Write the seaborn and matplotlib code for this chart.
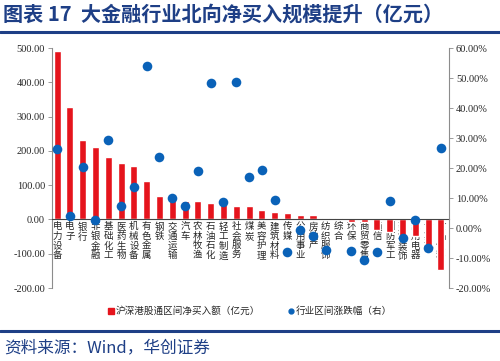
import numpy as np
import pandas as pd
import matplotlib.pyplot as plt
from matplotlib.lines import Line2D
from matplotlib.ticker import FuncFormatter
import seaborn as sns

categories = ["电力设备", "电子", "银行", "非银金融", "基础化工", "医药生物", "机械设备",
              "有色金属", "钢铁", "交通运输", "汽车", "农林牧渔", "石油石化", "轻工制造",
              "社会服务", "煤炭", "美容护理", "建筑材料", "传媒", "公用事业", "房地产",
              "纺织服饰", "综合", "环保", "商贸零售", "通信", "国防军工", "建筑装饰",
              "家用电器", "计算机", "食品饮料"]
net_buy = [490, 328, 233, 211, 181, 166, 155, 112, 67, 58, 55, 54, 49, 45, 40,
           39, 28, 21, 18, 14, 14, 5, 4, -8, -8, -30, -37, -57, -47, -90, -147]
pct_change = [26.3, 4.1, 20.5, 2.8, 29.2, 7.5, 13.8, 53.9, 23.8, 10.1, 7.3, 18.9,
              48.3, 8.7, 48.8, 16.9, 19.3, 9.2, -7.9, -0.8, -2.6, -7.2, np.nan,
              -7.8, -10.8, -8.1, 8.9, -3.3, 2.8, -6.5, 26.7]

bar_label = "沪深港股通区间净买入额（亿元）"
dot_label = "行业区间涨跌幅（右）"
title = "图表 17  大金融行业北向净买入规模提升（亿元）"
source = "资料来源：Wind，华创证券"

RED = "#E5141C"
BLUE = "#0A62B8"
NAVY = "#1E3F86"
GREY = "#8C8C8C"
CJK = ["Noto Sans CJK SC", "DejaVu Sans"]
SERIF = ["Liberation Serif", "DejaVu Serif"]

sns.set_style("white")
plt.rcParams["font.family"] = CJK
plt.rcParams["axes.unicode_minus"] = False

df = pd.DataFrame({"industry": categories, "net_buy": net_buy,
                   "pct": pct_change, "pos": np.arange(len(categories))})

fig = plt.figure(figsize=(5.0, 3.61), dpi=100)
ax = fig.add_axes([0.104, 0.2022, 0.794, 0.6648])
sns.barplot(data=df, x="industry", y="net_buy", order=categories, color=RED,
            saturation=1, width=0.55, ax=ax)
ax2 = ax.twinx()
sns.scatterplot(data=df, x="pos", y="pct", color=BLUE, s=48, linewidth=0,
                ax=ax2, zorder=3)

n = len(categories)
# spine move resets the ticks, so do it before styling the labels
ax.spines["bottom"].set_position(("data", 0))
ax.spines["bottom"].set_color("#444444")
ax.spines["bottom"].set_linewidth(0.8)

ax.set_xlim(-0.4, n - 1 + 0.63)
ax.set_ylim(-200, 500)
ax2.set_ylim(-20, 60)
ax.set_yticks(np.arange(-200, 501, 100))
ax2.set_yticks(np.arange(-20, 61, 10))
ax.yaxis.set_major_formatter(FuncFormatter(lambda v, p: f"{v:.2f}"))
ax2.yaxis.set_major_formatter(FuncFormatter(lambda v, p: f"{v:.2f}%"))
ax.set_xlabel("")
ax.set_ylabel("")
ax2.set_xlabel("")
ax2.set_ylabel("")

# category labels written vertically, char by char
ax.set_xticks(np.arange(n))
ax.set_xticklabels(["\n".join(c) for c in categories], rotation=0,
                   fontsize=6.8, va="top", linespacing=1.08)
ax.set_xticks(np.arange(n) + 0.5, minor=True)
ax.tick_params(axis="x", which="major", length=0, pad=2)
ax.tick_params(axis="x", which="minor", length=2.5, direction="out",
               color="#444444", width=0.6)

for a in (ax, ax2):
    a.spines["top"].set_visible(False)
    for lab in a.get_yticklabels():
        lab.set_family(SERIF)
        lab.set_fontsize(7.5)
ax.spines["right"].set_visible(False)
ax.spines["left"].set_color(GREY)
ax.spines["left"].set_linewidth(0.8)
ax2.spines["left"].set_visible(False)
ax2.spines["bottom"].set_visible(False)
ax2.spines["right"].set_color(GREY)
ax2.spines["right"].set_linewidth(0.8)
ax.tick_params(axis="y", which="major", left=True, length=3, width=0.6,
               color=GREY, pad=2)
ax2.tick_params(axis="y", which="major", right=True, length=3, width=0.6,
                color=GREY, pad=2)

handles = [Line2D([], [], marker="s", linestyle="none", color=RED, markersize=4.5),
           Line2D([], [], marker="o", linestyle="none", color=BLUE, markersize=3.5)]
fig.legend(handles, [bar_label, dot_label], loc="center", ncol=2,
           bbox_to_anchor=(0.5, 0.138), frameon=False, fontsize=6.9,
           handlelength=0.6, handletextpad=0.2, columnspacing=3.0)

fig.text(0.006, 0.962, title, fontsize=14.5, fontweight="bold", color=NAVY,
         va="center", ha="left")
fig.add_artist(Line2D([0, 1], [0.911, 0.911], color=NAVY, lw=2.2,
                      transform=fig.transFigure))
fig.add_artist(Line2D([0, 1], [0.083, 0.083], color=NAVY, lw=2.2,
                      transform=fig.transFigure))
fig.text(0.008, 0.037, source, fontsize=12, color=NAVY, va="center",
         ha="left")

fig.savefig("out.png", dpi=100)
plt.close(fig)
